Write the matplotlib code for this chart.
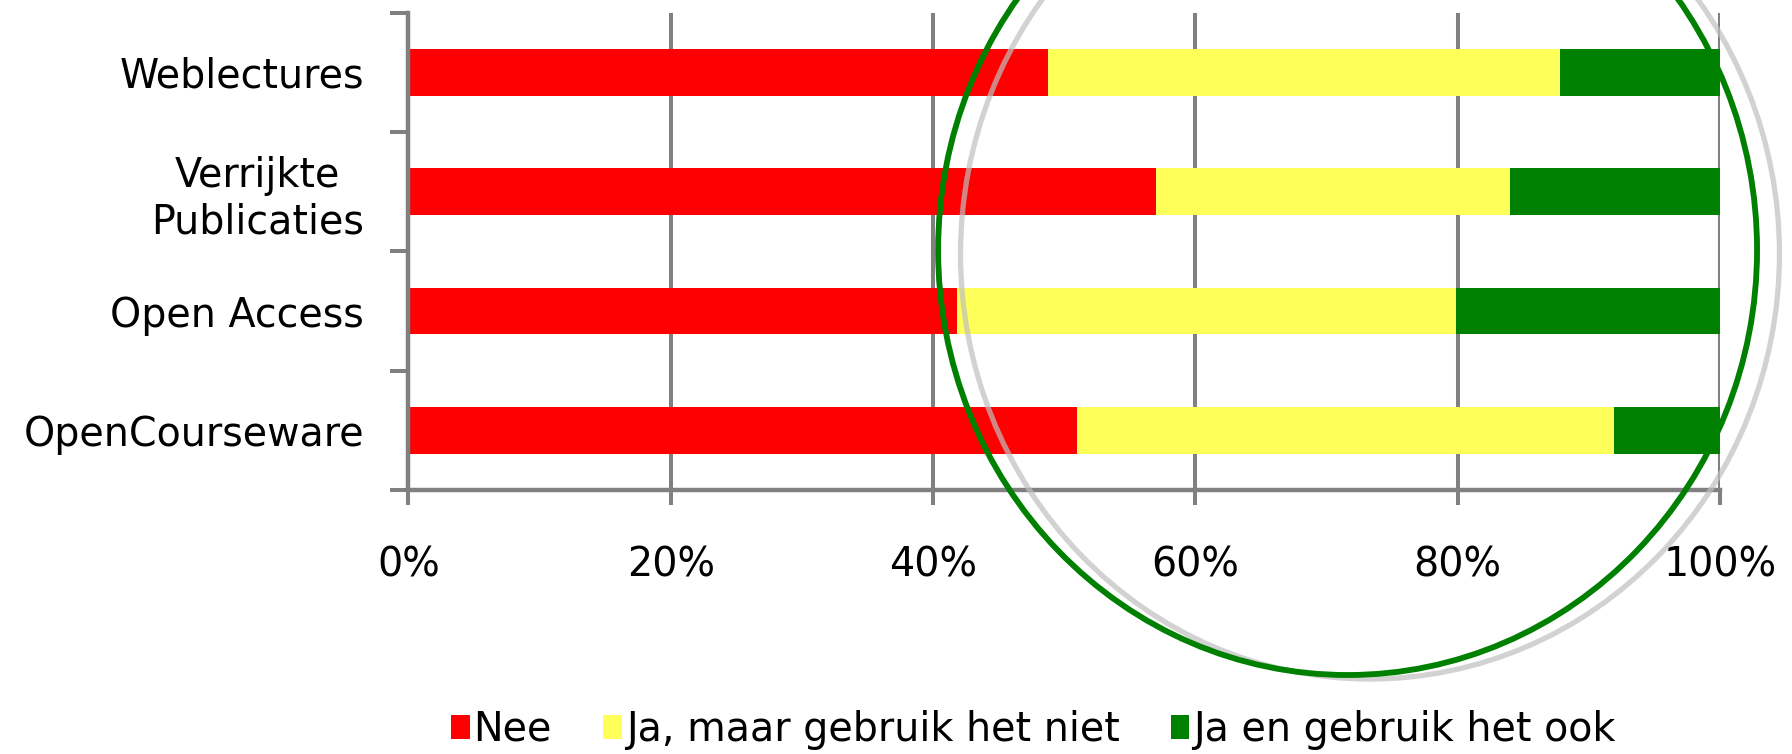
import matplotlib
matplotlib.use("Agg")
import matplotlib.pyplot as plt
from matplotlib.patches import Ellipse, Patch
from matplotlib.ticker import FixedLocator
import numpy as np

plt.rcParams['font.family'] = ['DejaVu Sans']

categories = ["Weblectures", "Verrijkte\nPublicaties", "Open Access", "OpenCourseware"]
series_names = ["Nee", "Ja, maar gebruik het niet", "Ja en gebruik het ook"]
nee = [48.8, 57.0, 41.8, 51.0]
ja_niet = [39.0, 27.0, 38.1, 40.9]
ja_ook = [12.2, 16.0, 20.1, 8.1]
x_ticks = [0, 20, 40, 60, 80, 100]
x_ticklabels = ["0%", "20%", "40%", "60%", "80%", "100%"]

colors = ["#FF0000", "#FFFF5A", "#008000"]
axis_gray = "#808080"
FS = 28.5

fig = plt.figure(figsize=(17.92, 7.54), dpi=100)
ax = fig.add_axes([0.2279, 0.3501, 0.9598 - 0.2279, 0.9832 - 0.3501])

y = np.arange(len(categories))
left = np.zeros(len(categories))
for vals, col, name in zip([nee, ja_niet, ja_ook], colors, series_names):
    ax.barh(y, vals, left=left, height=0.39, color=col, label=name, zorder=3)
    left = left + np.array(vals)

ax.set_xlim(0, 100)
ax.set_ylim(len(categories) - 0.5, -0.5)

# grid
ax.set_xticks(x_ticks)
ax.set_xticklabels(x_ticklabels, fontsize=FS)
for xv in x_ticks[1:]:
    ax.axvline(xv, color=axis_gray, lw=2.9, zorder=1, solid_capstyle='round')
ax.tick_params(axis='x', direction='out', length=10.8, width=2.9, color=axis_gray, pad=29)

ax.set_yticks(y)
ax.set_yticklabels(categories, fontsize=FS, multialignment='center')
ax.yaxis.set_minor_locator(FixedLocator(np.arange(-0.5, len(categories), 1.0)))
ax.tick_params(axis='y', which='major', length=0, pad=32)
ax.tick_params(axis='y', which='minor', direction='out', length=13, width=2.9, color=axis_gray)

for s in ['top', 'right']:
    ax.spines[s].set_visible(False)
for s in ['left', 'bottom']:
    ax.spines[s].set_color(axis_gray)
    ax.spines[s].set_linewidth(3.2)
    ax.spines[s].set_zorder(4)

# legend
handles = [Patch(facecolor=c, edgecolor='none') for c in colors]
fig.legend(handles, series_names, loc='center', bbox_to_anchor=(0.5767, 0.032),
           ncol=3, frameon=False, fontsize=FS, handlelength=0.46, handleheight=0.57,
           handletextpad=0.1, columnspacing=1.3, borderpad=0, borderaxespad=0)

# highlight ellipse with shadow
shadow = Ellipse((0.7645, 0.6631), 0.4570, 1.1273, transform=fig.transFigure,
                 fill=False, edgecolor="#bfbfbf", alpha=0.7, lw=3.8, zorder=10)
ring = Ellipse((0.7520, 0.6684), 0.4570, 1.1273, transform=fig.transFigure,
               fill=False, edgecolor="#008000", lw=4.2, zorder=11)
fig.add_artist(shadow)
fig.add_artist(ring)

fig.savefig("out.png", dpi=100)
